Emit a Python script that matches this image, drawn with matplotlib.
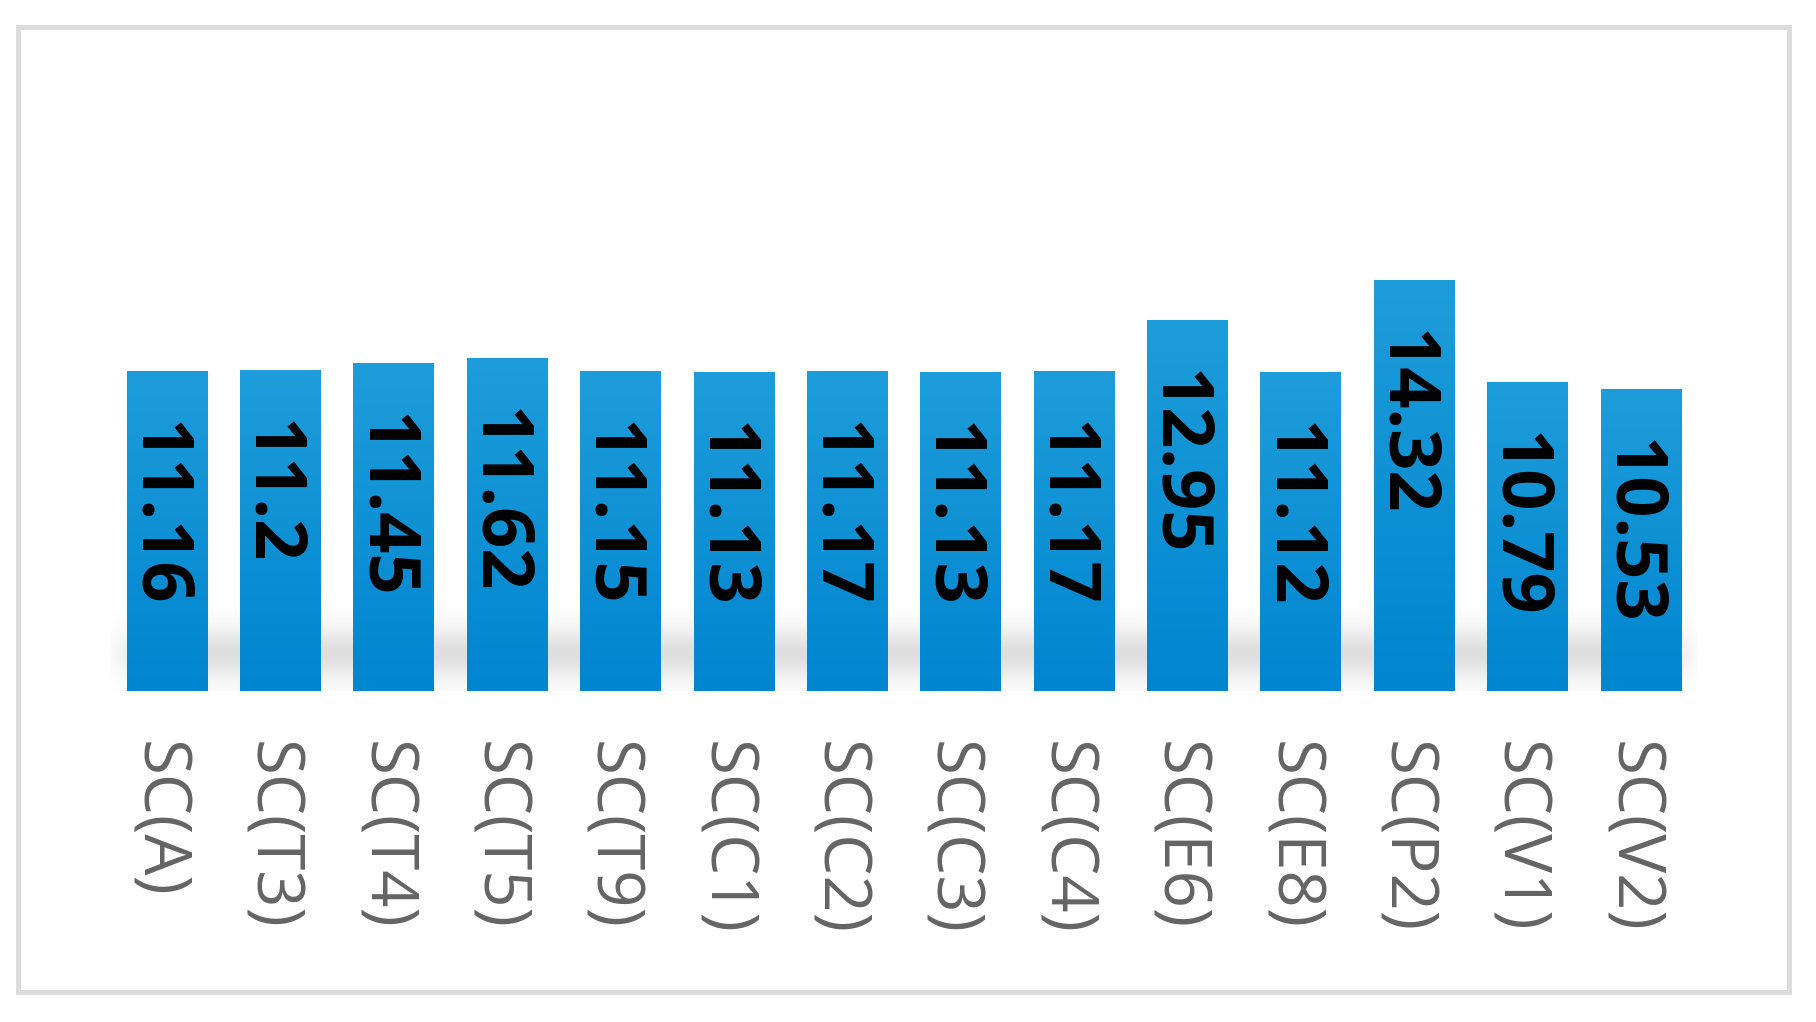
import numpy as np
import matplotlib
matplotlib.use('Agg')
import matplotlib.pyplot as plt
import matplotlib.transforms as mtransforms
from matplotlib.colors import LinearSegmentedColormap
from matplotlib.patches import Rectangle

categories = ['SC(A)', 'SC(T3)', 'SC(T4)', 'SC(T5)', 'SC(T9)', 'SC(C1)', 'SC(C2)',
              'SC(C3)', 'SC(C4)', 'SC(E6)', 'SC(E8)', 'SC(P2)', 'SC(V1)', 'SC(V2)']
values = [11.16, 11.2, 11.45, 11.62, 11.15, 11.13, 11.17,
          11.13, 11.17, 12.95, 11.12, 14.32, 10.79, 10.53]

fig = plt.figure(figsize=(18.16, 10.22), dpi=100)
ax = fig.add_axes([0.0606, 0.3239, 0.874, 0.6174])

x = np.arange(len(categories))
width = 0.706

# soft grey shadow behind the bottom of the bars
ys = np.linspace(0, 4, 120)
xs = np.linspace(-0.55, len(categories) - 0.45, 400)
vert = np.exp(-((ys - 1.3) / 0.9) ** 2)
horiz = np.clip((xs + 0.55) / 0.35, 0, 1) * np.clip((len(categories) - 0.45 - xs) / 0.35, 0, 1)
shadow = np.zeros((len(ys), len(xs), 4))
shadow[..., :3] = 0.55
shadow[..., 3] = 0.28 * np.outer(vert, horiz)
ax.imshow(shadow, extent=(xs[0], xs[-1], 0, 4), origin='lower', aspect='auto',
          zorder=1, interpolation='bilinear')

cmap = LinearSegmentedColormap.from_list('bar', ['#0085CF', '#1E9DDA'])
grad = np.linspace(0, 1, 256).reshape(-1, 1)
bars = ax.bar(x, values, width=width, color='#0E91D4', zorder=2)
for b in bars:
    im = ax.imshow(grad, cmap=cmap, origin='lower', aspect='auto',
                   extent=(b.get_x(), b.get_x() + b.get_width(), 0, b.get_height()),
                   zorder=3)
    im.set_clip_path(b)

for xi, v in zip(x, values):
    ax.annotate(f'{v:g}', (xi, v), xytext=(-7, -36), textcoords='offset points',
                rotation=-90, ha='center', va='top', fontsize=52, fontweight='bold',
                family='Open Sans', color='black', zorder=4)

ax.set_xticks(x)
ax.set_xticklabels(categories, rotation=-90, fontsize=47, family='Open Sans',
                   color='#646464')
ax.tick_params(axis='x', length=0, pad=36)
shift = mtransforms.ScaledTranslation(-7 / 72, 0, fig.dpi_scale_trans)
for lab in ax.get_xticklabels():
    lab.set_transform(lab.get_transform() + shift)
ax.set_yticks([])
for s in ax.spines.values():
    s.set_visible(False)
ax.set_xlim(-0.5, len(categories) - 0.5)
ax.set_ylim(0, 22.0)

fig.patches.append(Rectangle((0.0099, 0.0294), 0.9752, 0.9442, transform=fig.transFigure,
                             fill=False, edgecolor='#dcdcdc', linewidth=3.6))

fig.savefig('out.png', dpi=100)
